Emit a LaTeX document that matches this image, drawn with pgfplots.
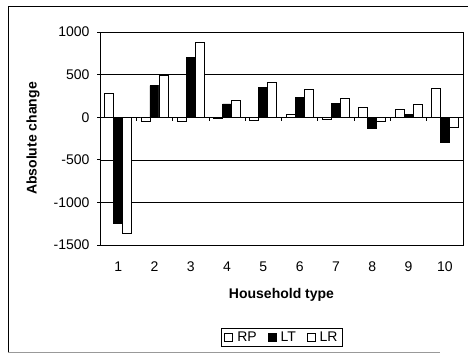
\documentclass[border=0pt]{standalone}
\usepackage{fontspec}
\setmainfont{Liberation Sans}
\usepackage{pgfplots}
\pgfplotsset{compat=1.18}
\newcommand\fs{\fontsize{14pt}{16pt}\selectfont}
\begin{document}
\begin{tikzpicture}[x=1pt,y=1pt]
\useasboundingbox (-100,-108) rectangle (368,245);
\draw[line width=0.8pt] (-92,-107) -- (-92,239) -- (368,239);
\draw[line width=0.8pt, black!40] (-92,-107) -- (340,-107);
\begin{axis}[
  at={(0,0)}, anchor=south west, scale only axis,
  width=363pt, height=213pt,
  xmin=0.5, xmax=10.5, ymin=-1500, ymax=1000,
  ybar=0pt, bar width=9pt,
  xtick={1,...,10}, major x tick style={draw=none},
  ytick={-1500,-1000,...,1000},
  ytick pos=left, xtick pos=bottom,
  ymajorgrids, grid style={black, line width=0.6pt},
  tick align=outside, major tick length=3pt,
  axis line style={line width=0.8pt},
  tick style={black, line width=0.8pt},
  /pgf/number format/assume math mode=true,
  /pgf/number format/1000 sep={},
  ticklabel style={font=\fs},
  xticklabel style={yshift=-10pt},
  yticklabel style={xshift=-4pt},
  xlabel={\bfseries Household type},
  ylabel={\bfseries Absolute change},
  label style={font=\fs},
  xlabel style={at={(axis description cs:0.5,-50/213)}, anchor=center},
  ylabel style={at={(axis description cs:-67/363,0.5)}, anchor=center},
  legend style={at={(182/363,-92/213)}, anchor=center, legend columns=3,
    draw=black, line width=0.6pt, font=\fs, inner xsep=3pt, inner ysep=1.5pt,
    /tikz/every even column/.append style={column sep=9pt},
    /tikz/every odd column/.append style={column sep=2pt}},
  legend image code/.code={\draw[#1, line width=0.8pt] (0pt,-4pt) rectangle (8pt,4pt);},
]
\addplot[draw=black, fill=white, line width=0.8pt] coordinates {
 (1,285) (2,-55) (3,-50) (4,-15) (5,-40) (6,37) (7,-30) (8,120) (9,96) (10,342)};
\addplot[draw=black, fill=black, line width=0.8pt] coordinates {
 (1,-1245) (2,370) (3,705) (4,155) (5,350) (6,232) (7,166) (8,-135) (9,30) (10,-291)};
\addplot[draw=black, fill=white, line width=0.8pt] coordinates {
 (1,-1360) (2,495) (3,880) (4,197) (5,405) (6,322) (7,217) (8,-50) (9,150) (10,-120)};
\legend{RP,LT,LR}
\pgfplotsinvokeforeach{0.5,1.5,...,10.5}{\draw[line width=0.8pt] (axis cs:#1,0) -- ++(0pt,-4pt);}
\end{axis}
\end{tikzpicture}
\end{document}
